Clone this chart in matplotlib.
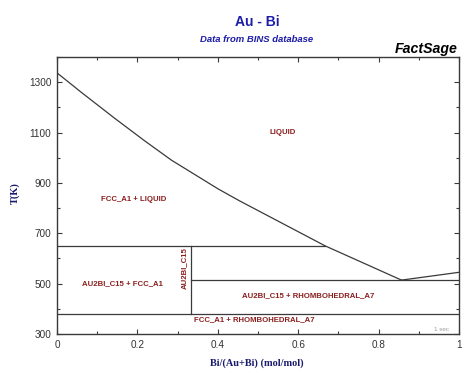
import matplotlib
matplotlib.use("Agg")
import matplotlib.pyplot as plt
from matplotlib.ticker import MultipleLocator

# Liquidus (Au side down to eutectic, then Bi side)
liq_x = [0.0, 0.061, 0.144, 0.219, 0.285, 0.401, 0.455, 0.667, 0.857]
liq_T = [1337, 1259, 1156, 1066, 990, 876, 828, 650, 514]
liq2_x = [0.857, 1.0]
liq2_T = [514, 545]

# invariant lines
peritectic_T = 650
peritectic_x = [0.0, 0.667]
eutectic_T = 514
eutectic_x = [0.333, 1.0]
decomp_T = 378
decomp_x = [0.0, 1.0]
au2bi_x = 0.333
au2bi_T = [378, 650]

labels = ["LIQUID", "FCC_A1 + LIQUID", "AU2BI_C15 + FCC_A1",
          "AU2BI_C15 + RHOMBOHEDRAL_A7", "FCC_A1 + RHOMBOHEDRAL_A7"]
label_x = [0.562, 0.192, 0.162, 0.625, 0.490]
label_T = [1101, 836, 502, 451, 357]
vlabel = "AU2BI_C15"
vlabel_x, vlabel_T = 0.316, 562

W, H = 474, 373
fig = plt.figure(figsize=(W/100, H/100), dpi=100)
ax = fig.add_axes([57/W, 1-334/H, (459-57)/W, (334-57)/H])

lc = "#3a3a3a"
lw = 0.9
ax.plot(liq_x, liq_T, color=lc, lw=lw)
ax.plot(liq2_x, liq2_T, color=lc, lw=lw)
ax.plot(peritectic_x, [peritectic_T]*2, color=lc, lw=lw)
ax.plot(eutectic_x, [eutectic_T]*2, color=lc, lw=lw)
ax.plot(decomp_x, [decomp_T]*2, color=lc, lw=lw)
ax.plot([au2bi_x]*2, au2bi_T, color=lc, lw=lw)

ax.set_xlim(0, 1)
ax.set_ylim(300, 1400)
ax.xaxis.set_major_locator(MultipleLocator(0.2))
ax.xaxis.set_minor_locator(MultipleLocator(0.1))
ax.yaxis.set_major_locator(MultipleLocator(200))
ax.yaxis.set_minor_locator(MultipleLocator(100))
ax.set_yticks([300, 500, 700, 900, 1100, 1300])
ax.set_xticks([0, 0.2, 0.4, 0.6, 0.8, 1.0])
ax.set_xticklabels(["0", "0.2", "0.4", "0.6", "0.8", "1"])
ax.tick_params(which="both", direction="in", top=True, right=True,
               colors=lc, labelcolor="#333333", labelsize=7.2, width=0.8,
               labelfontfamily="Liberation Sans")
ax.tick_params(which="major", length=3.5, pad=4)
ax.tick_params(which="minor", length=2.5)
for s in ax.spines.values():
    s.set_color(lc)
    s.set_linewidth(1.0)

rc = "#8b1f1f"
for t, x, y in zip(labels, label_x, label_T):
    ax.text(x, y, t, color=rc, fontsize=5.6, fontweight="bold",
            family="Liberation Sans", ha="center", va="center")
ax.text(vlabel_x, vlabel_T, vlabel, color=rc, fontsize=5.6, fontweight="bold",
        family="Liberation Sans", ha="center", va="center", rotation=90)
ax.text(0.975, 318, "1 sec", color="#999999", fontsize=4.5,
        family="Liberation Sans", ha="right", va="center")

navy = "#1a1a6e"
fig.text(15/W, 1-193/H, "T(K)", rotation=90, color=navy, fontsize=7.4,
         fontweight="bold", family="Liberation Serif", ha="center", va="center")
fig.text(257/W, 1-363/H, "Bi/(Au+Bi) (mol/mol)", color=navy, fontsize=7.4,
         fontweight="bold", family="Liberation Serif", ha="center", va="center")

blue = "#1c1ca8"
fig.text(257/W, 1-22.5/H, "Au - Bi", color=blue, fontsize=10, fontweight="bold",
         family="Liberation Sans", ha="center", va="center")
fig.text(257/W, 1-39.3/H, "Data from BINS database", color=blue, fontsize=6.8,
         fontweight="bold", style="italic", family="Liberation Sans",
         ha="center", va="center")
fig.text(458/W, 1-49.5/H, "FactSage", color="black", fontsize=10.2,
         fontweight="bold", style="italic", family="Liberation Sans",
         ha="right", va="center")

fig.savefig("out.png", dpi=100, facecolor="white")
